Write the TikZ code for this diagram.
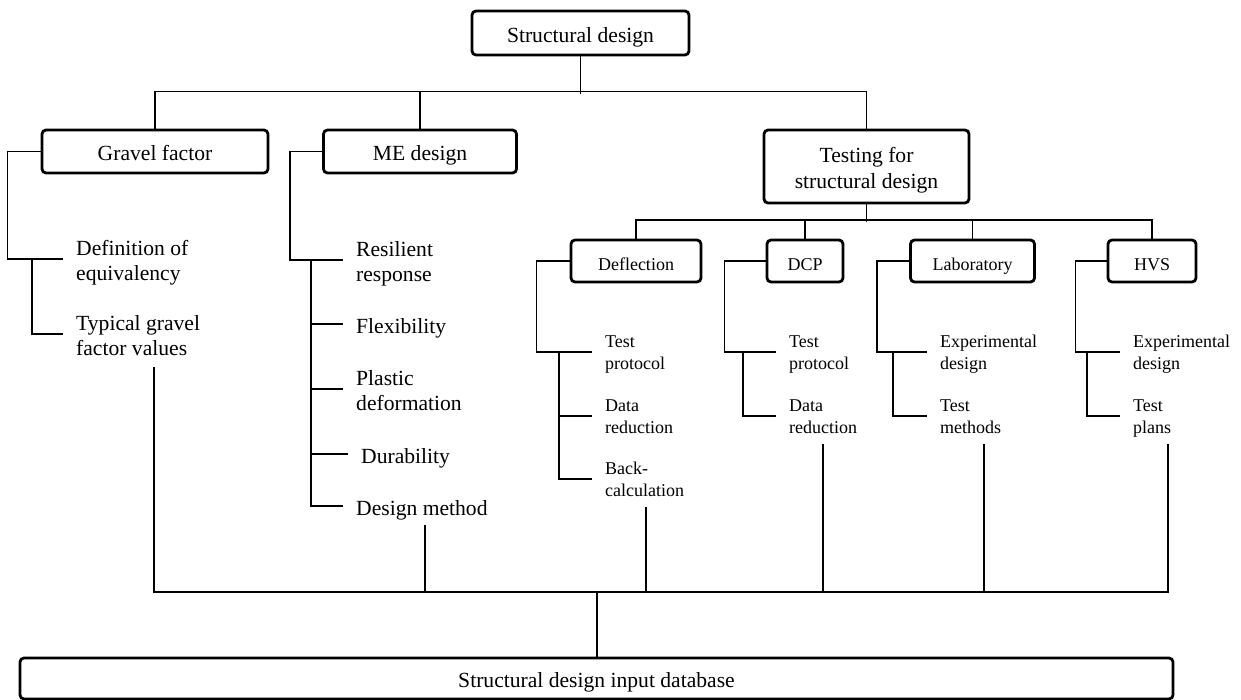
\documentclass[tikz,border=0pt]{standalone}
\usepackage{fontspec}
\setmainfont{Liberation Serif}
\newcommand\bigf{\fontsize{21.6}{25.5}\selectfont}
\newcommand\smallf{\fontsize{18}{22}\selectfont}
\newcommand\bstrut{\vrule width 0pt height 23pt depth 4.6pt\relax}
\newcommand\sstrut{\vrule width 0pt height 17.5pt depth 4.9pt\relax}
\tikzset{
  box/.style={draw, rounded corners=4pt, line width=2.8pt, align=center, inner sep=0pt, font=\bigf,
    execute at begin node=\bstrut, execute at end node=\bstrut},
  sbox/.style={box, font=\smallf, execute at begin node=\sstrut, execute at end node=\sstrut},
  item/.style={anchor=west, align=left, inner xsep=13pt, inner ysep=0pt, font=\bigf,
    execute at begin node=\bstrut, execute at end node=\bstrut},
  sitem/.style={item, font=\smallf, execute at begin node=\sstrut, execute at end node=\sstrut},
  conn/.style={line width=1.3pt},
}
\begin{document}
\begin{tikzpicture}[x=1pt,y=-1pt]
\useasboundingbox (0,0) rectangle (1241,700);
% main boxes
\node[box, minimum width=217pt, minimum height=44pt] (sd) at (580.5,33) {Structural design};
\node[box, minimum width=226pt, minimum height=43pt] (gf) at (155,151.5) {Gravel factor};
\node[box, minimum width=193pt, minimum height=43pt] (me) at (420,151.5) {ME design};
\node[box, minimum width=205pt, minimum height=73pt] (tsd) at (866.5,166.5) {\bstrut Testing for\\structural design};
\node[sbox, minimum width=130pt, minimum height=42pt] (defl) at (636,261) {Deflection};
\node[sbox, minimum width=76pt, minimum height=42pt] (dcp) at (805,261) {DCP};
\node[sbox, minimum width=124pt, minimum height=42pt] (lab) at (972.5,261) {Laboratory};
\node[sbox, minimum width=88pt, minimum height=42pt] (hvs) at (1152,261) {HVS};
\node[box, minimum width=1153pt, minimum height=41pt] (db) at (596.5,678.5) {Structural design input database};
% gravel items
\node[item] (def) at (63,259) {\bstrut Definition of\\equivalency};
\node[item] (typ) at (63,334) {\bstrut Typical gravel\\factor values};
% ME items
\node[item] (res) at (343,260) {\bstrut Resilient\\response};
\node[item] (flex) at (343,324) {Flexibility};
\node[item] (plas) at (343,389) {\bstrut Plastic\\deformation};
\node[item] (dur) at (348,454) {Durability};
\node[item] (dm) at (343,506) {Design method};
% deflection items
\node[sitem] (tp1) at (592,352) {\sstrut Test\\protocol};
\node[sitem] (dr1) at (592,416) {\sstrut Data\\reduction};
\node[sitem] (bc) at (592,479) {\sstrut Back-\\calculation};
% DCP items
\node[sitem] (tp2) at (776,352) {\sstrut Test\\protocol};
\node[sitem] (dr2) at (776,416) {\sstrut Data\\reduction};
% lab items
\node[sitem] (ed1) at (927,352) {\sstrut Experimental\\design};
\node[sitem] (tm) at (927,416) {\sstrut Test\\methods};
% HVS items
\node[sitem] (ed2) at (1120,352) {\sstrut Experimental\\design};
\node[sitem] (tpl) at (1120,416) {\sstrut Test\\plans};
% top tree
\draw[conn] (sd.south) -- ++(0,38);
\draw[conn] (gf.north) -- ++(0,-37) -| (tsd.north);
\draw[conn] (me.north) -- ++(0,-37);
\draw[conn] (tsd.south) -- ++(0,18);
\draw[line width=2pt] (defl.north) -- ++(0,-19) -| (hvs.north);
\draw[conn] (dcp.north) -- ++(0,-19);
\draw[conn] (lab.north) -- ++(0,-19);
% gravel branches
\draw[conn] (gf.west) -- ++(-33,0) |- (def.west);
\draw[conn] (def.west) ++(-31,0) |- (typ.west);
% ME branches
\draw[conn] (me.west) -- ++(-32,0) |- (res.west);
\draw[conn] (res.west) ++(-32,0) |- (dm.west);
\draw[conn] (flex.west) -- ++(-32,0);
\draw[conn] (plas.west) -- ++(-32,0);
\draw[conn] (dur.west) -- ++(-37,0);
% deflection branches
\draw[conn] (defl.west) -- ++(-33,0) |- (tp1.west);
\draw[conn] (tp1.west) ++(-33,0) |- (bc.west);
\draw[conn] (dr1.west) -- ++(-33,0);
% DCP branches
\draw[conn] (dcp.west) -- ++(-41,0) |- (tp2.west);
\draw[conn] (tp2.west) ++(-33,0) |- (dr2.west);
% lab branches
\draw[conn] (lab.west) -- ++(-32,0) |- (ed1.west);
\draw[conn] (ed1.west) ++(-34,0) |- (tm.west);
% HVS branches
\draw[conn] (hvs.west) -- ++(-31,0) |- (ed2.west);
\draw[conn] (ed2.west) ++(-33,0) |- (tpl.west);
% bottom bus
\coordinate (bus) at (0,592);
\coordinate (gfdrop) at (154,367);
\coordinate (medrop) at (425,525);
\coordinate (bcdrop) at (646,507);
\coordinate (dcpdrop) at (823,444);
\coordinate (labdrop) at (984,444);
\coordinate (hvsdrop) at (1168,444);
\draw[conn] (gfdrop) -- (gfdrop |- bus) -- (hvsdrop |- bus) -- (hvsdrop);
\draw[line width=2.6pt] (medrop |- bus) -- (labdrop |- bus);
\draw[conn] (medrop) -- (medrop |- bus);
\draw[conn] (bcdrop) -- (bcdrop |- bus);
\draw[conn] (dcpdrop) -- (dcpdrop |- bus);
\draw[conn] (labdrop) -- (labdrop |- bus);
\draw[line width=2pt] (db.north) -- (db.north |- bus);
\end{tikzpicture}
\end{document}
